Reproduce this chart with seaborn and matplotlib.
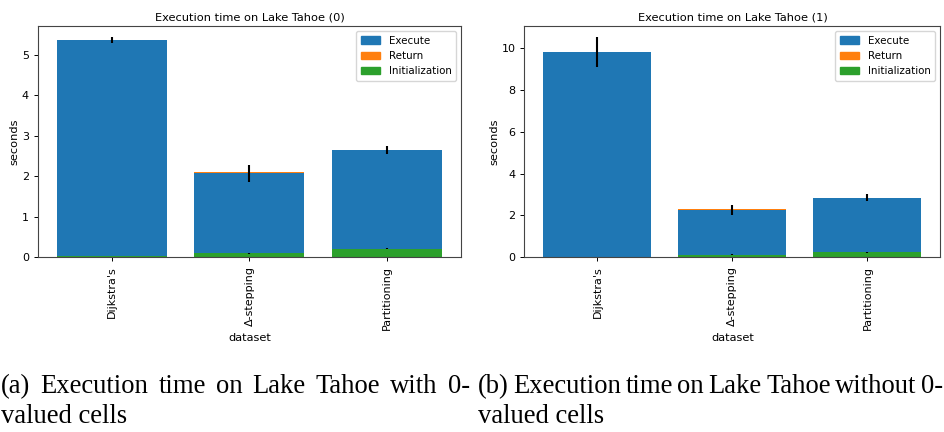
import matplotlib
matplotlib.use("Agg")
import matplotlib.pyplot as plt
from matplotlib.patches import Patch
import numpy as np
import pandas as pd
import seaborn as sns

sns.set_style("ticks")
plt.rcParams['font.family'] = ['DejaVu Sans']
for k in ["text.color", "axes.labelcolor", "xtick.color", "ytick.color"]:
    plt.rcParams[k] = "black"

algorithms = ["Dijkstra's", "\u0394-stepping", "Partitioning"]

# Panel (a): with 0-valued cells
init_a = [0.02, 0.09, 0.21]
exec_a = [5.35, 1.98, 2.44]
ret_a = [0.005, 0.03, 0.005]
exec_err_a = [0.07, 0.21, 0.10]
init_err_a = [0.005, 0.01, 0.015]

# Panel (b): without 0-valued cells
init_b = [0.01, 0.12, 0.22]
exec_b = [9.80, 2.13, 2.62]
ret_b = [0.005, 0.03, 0.005]
exec_err_b = [0.73, 0.22, 0.17]
init_err_b = [0.005, 0.01, 0.015]

titles = ["Execution time on Lake Tahoe (0)", "Execution time on Lake Tahoe (1)"]
captions = [("(a) Execution time on Lake Tahoe with 0-", "valued cells"),
            ("(b) Execution time on Lake Tahoe without 0-", "valued cells")]

C_EXEC, C_RET, C_INIT = "#1f77b4", "#ff7f0e", "#2ca02c"

fig = plt.figure(figsize=(9.45, 4.32), dpi=100)
axes = [fig.add_axes([0.040, 0.405, 0.448, 0.535]),
        fig.add_axes([0.555, 0.405, 0.440, 0.535])]

panels = [(init_a, exec_a, ret_a, exec_err_a, init_err_a),
          (init_b, exec_b, ret_b, exec_err_b, init_err_b)]

for ax, (ini, exe, ret, eerr, ierr), title in zip(axes, panels, titles):
    ini = np.array(ini); exe = np.array(exe); ret = np.array(ret)
    df = pd.DataFrame({"dataset": algorithms,
                       "total": ini + exe + ret,
                       "exec_top": ini + exe,
                       "init_top": ini})
    sns.barplot(data=df, x="dataset", y="total", color=C_RET, saturation=1,
                errorbar=None, width=0.8, ax=ax, linewidth=0)
    sns.barplot(data=df, x="dataset", y="exec_top", color=C_EXEC, saturation=1,
                errorbar=None, width=0.8, ax=ax, linewidth=0)
    sns.barplot(data=df, x="dataset", y="init_top", color=C_INIT, saturation=1,
                errorbar=None, width=0.8, ax=ax, linewidth=0)
    xs = np.arange(len(algorithms))
    ax.errorbar(xs, ini + exe, yerr=eerr, fmt="none", ecolor="black", elinewidth=1.5, capsize=0)
    ax.errorbar(xs, ini, yerr=ierr, fmt="none", ecolor="black", elinewidth=1.5, capsize=0)
    ax.set_xlim(-0.54, 2.54)
    top = max(ini + exe + np.array(eerr)) * 1.05
    ax.set_ylim(0, top)
    ax.set_title(title, fontsize=8.2, pad=4)
    ax.set_xlabel("dataset", fontsize=8.2, labelpad=2)
    ax.set_ylabel("seconds", fontsize=8.2, labelpad=1.5)
    ax.tick_params(axis="both", labelsize=8, length=3, width=0.7)
    ax.tick_params(axis="x", rotation=90)
    for s in ax.spines.values():
        s.set_linewidth(0.8)
        s.set_color("#444444")
    handles = [Patch(color=C_EXEC, label="Execute"),
               Patch(color=C_RET, label="Return"),
               Patch(color=C_INIT, label="Initialization")]
    ax.legend(handles=handles, loc="upper right", fontsize=7.4, framealpha=0.8,
              handlelength=1.9, borderpad=0.45, labelspacing=0.5)

serif = ["Liberation Serif", "DejaVu Serif"]
FS = 19.2
renderer = fig.canvas.get_renderer()
W = fig.get_figwidth() * fig.dpi

def justified(x0, x1, y, line):
    words = line.split(" ")
    texts = [fig.text(0, y, w, fontsize=FS, family=serif, va="baseline", ha="left") for w in words]
    widths = [t.get_window_extent(renderer).width for t in texts]
    gap = ((x1 - x0) - sum(widths)) / (len(words) - 1)
    x = x0
    for t, w in zip(texts, widths):
        t.set_x(x / W)
        x += w + gap

justified(1, 470, 0.090, captions[0][0])
fig.text(1 / W, 0.021, captions[0][1], fontsize=FS, family=serif, va="baseline", ha="left")
justified(478, 943, 0.090, captions[1][0])
fig.text(478 / W, 0.021, captions[1][1], fontsize=FS, family=serif, va="baseline", ha="left")

fig.savefig("out.png", dpi=100)
